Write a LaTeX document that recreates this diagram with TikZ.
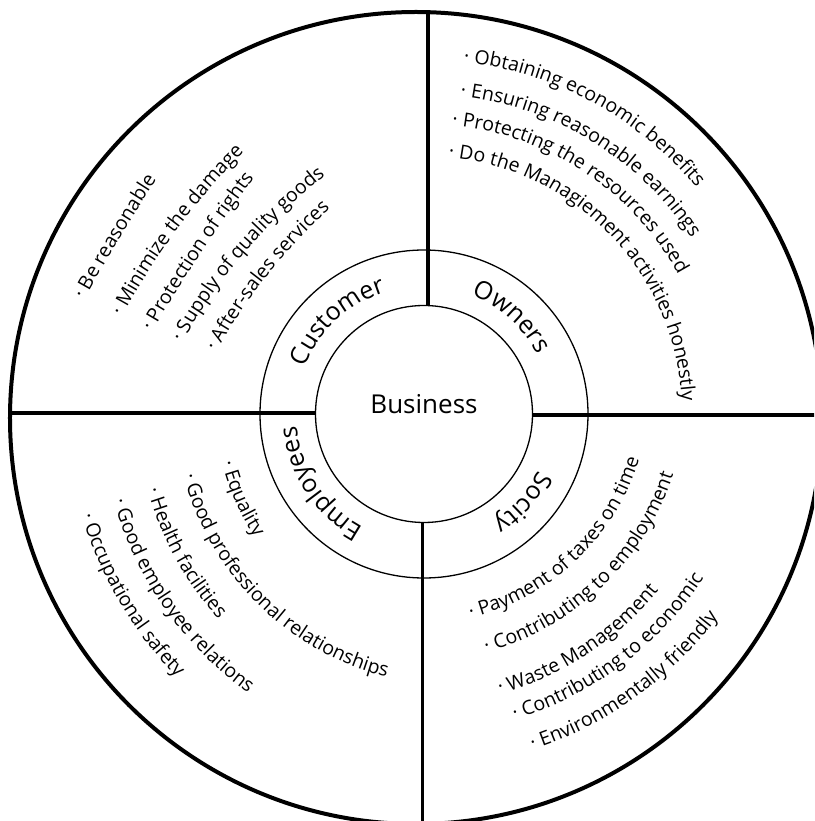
\documentclass[tikz,border=0pt]{standalone}
\usepackage{fontspec}
\setmainfont{Open Sans}
\usetikzlibrary{calc,decorations.text}
\newcommand\itemfont{\fontsize{19.5}{22}\selectfont}
\newcommand\ringfont{\fontsize{25}{28}\selectfont}

\begin{document}
\begin{tikzpicture}[x=1pt,y=1pt,
  rim/.style={draw,circle,line width=4pt,inner sep=0pt},
  band/.style={draw,circle,line width=1.3pt,inner sep=0pt},
  spoke/.style={line width=3.5pt},
  curved/.style={decorate,decoration={text along path,#1}}]
\useasboundingbox (-424,-407) rectangle (390,414);
\clip (-424,-407) rectangle (390,414);
\node[rim,minimum size=812pt] (rim) at (-8,-4) {};
\node[band,minimum size=328pt] (ring) at (0,0) {};
\node[band,minimum size=217pt] (core) at (0,0) {};
\node[anchor=base,font=\fontsize{26}{30}\selectfont] (biz) at (core.center) {Business};
\coordinate (nfoot) at ([xshift=4pt]core.north);
\coordinate (sfoot) at ([xshift=-1.5pt]core.south);
\coordinate (wfoot) at ([yshift=1pt]core.west);
\coordinate (efoot) at ([yshift=-1pt]core.east);
\draw[spoke] (nfoot) -- (nfoot |- rim.north);
\draw[spoke] (sfoot) -- (sfoot |- rim.south);
\draw[spoke] (wfoot) -- (wfoot -| rim.west);
\draw[spoke] (efoot) -- (efoot -| rim.east);
\foreach \mang/\word in {133/Customer,48/Owners,-41.7/Socity,213.6/Employees}
  \path[curved={text align=center,text/.expanded={|\noexpand\ringfont|\word}}]
    (\mang+70:128) arc[start angle=\mang+70,end angle=\mang-70,radius=128];
\foreach \rad/\ang/\txt in {354/83.6/· Obtaining economic benefits,
    320/83.5/· Ensuring reasonable earnings,
    290/84.5/· Protecting the resources used,
    258/84.6/· Do the Managiement activities honestly}
  \path[curved={text/.expanded={|\noexpand\itemfont|\txt}}]
    (\ang:\rad) arc[start angle=\ang,delta angle=-100,radius=\rad];
\begin{scope}[shift={(31,9)}]
\foreach \rad/\ang/\txt in {240/193.8/· Equality,
    280.5/194.6/· Good professional relationships,
    319/195.4/· Health facilities,
    354.7/195.7/· Good employee relations,
    389.3/196.5/· Occupational safety}
  \path[curved={text/.expanded={|\noexpand\itemfont|\txt}}]
    (\ang:\rad) arc[start angle=\ang,delta angle=100,radius=\rad];
\end{scope}
\begin{scope}[shift={(-9,24)}]
\foreach \rad/\ang/\txt in {234.8/-76.3/· Payment of taxes on time,
    271.7/-74.8/· Contributing to employment,
    315.5/-74.4/· Waste Management,
    344.4/-73.2/· Contributing to economic,
    378.6/-71.9/· Environmentally friendly}
  \path[curved={text/.expanded={|\noexpand\itemfont|\txt}}]
    (\ang:\rad) arc[start angle=\ang,delta angle=100,radius=\rad];
\end{scope}
\foreach \sx/\sy/\dir/\rad/\txt in {-340/114/61/2000/· Be reasonable,
    -302/97/62/700/· Minimize the damage,
    -272/82/60/1500/· Protection of rights,
    -242/71/61/550/· Supply of quality goods,
    -208/62/61/550/· After-sales services}
  \path[curved={text/.expanded={|\noexpand\itemfont|\txt}}]
    (\sx,\sy) arc[start angle=\dir+90,delta angle=-30,radius=\rad];
\end{tikzpicture}
\end{document}
